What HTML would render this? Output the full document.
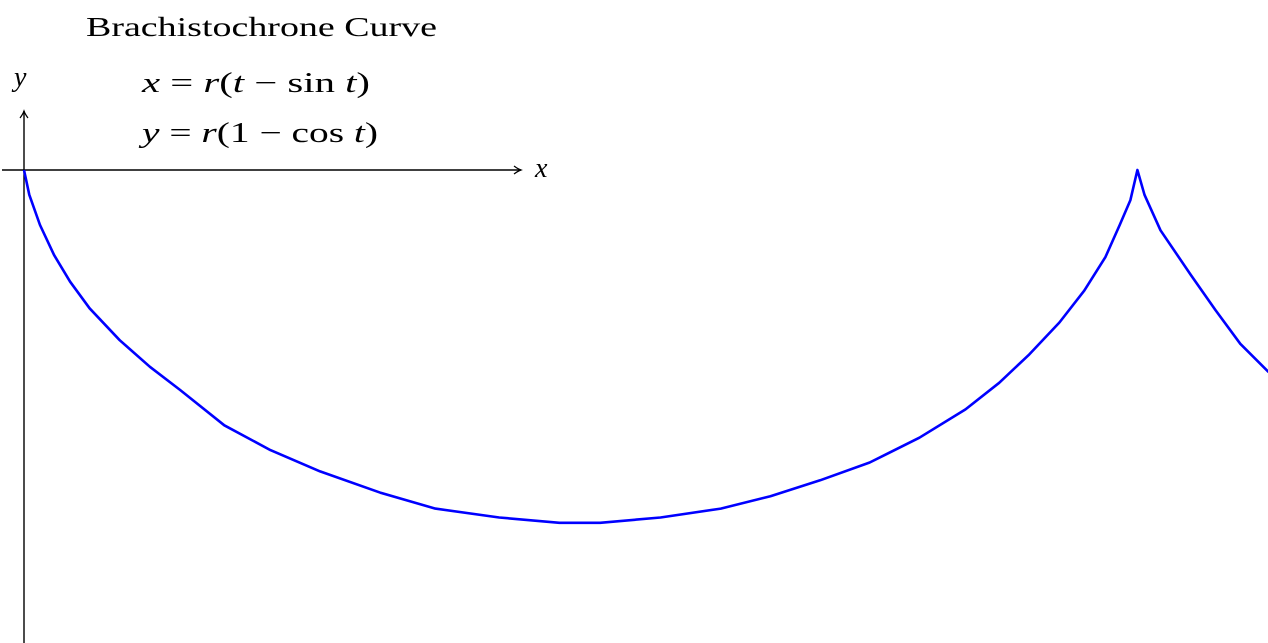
<!DOCTYPE html>
<html><head><meta charset="utf-8"><style>
html,body{margin:0;padding:0;background:#fff;}
svg{display:block;}
text{font-family:"Liberation Serif",serif;fill:#000;}
</style></head><body>
<svg id="chart" width="1268" height="643" viewBox="0 0 1268 643">
<defs><marker id="arr" markerWidth="10" markerHeight="10" refX="8" refY="5" orient="auto" markerUnits="userSpaceOnUse"><path d="M1,1 Q5,4 8,5 Q5,6 1,9" fill="none" stroke="#000" stroke-width="1.2"/></marker></defs>
<line x1="2" y1="170" x2="521" y2="170" stroke="#000" stroke-width="1.4" marker-end="url(#arr)"/>
<line x1="24" y1="643" x2="24" y2="111" stroke="#000" stroke-width="1.4" marker-end="url(#arr)"/>
<text x="535" y="177" font-size="28" font-style="italic">x</text>
<text x="14" y="86" font-size="28" font-style="italic">y</text>
<text x="86" y="36" font-size="27" textLength="351" lengthAdjust="spacingAndGlyphs">Brachistochrone Curve</text>
<text x="142" y="92" font-size="28" textLength="228" lengthAdjust="spacingAndGlyphs"><tspan font-style="italic">x</tspan> = <tspan font-style="italic">r</tspan>(<tspan font-style="italic">t</tspan> − sin <tspan font-style="italic">t</tspan>)</text>
<text x="142" y="142" font-size="28" textLength="236" lengthAdjust="spacingAndGlyphs"><tspan font-style="italic">y</tspan> = <tspan font-style="italic">r</tspan>(1 − cos <tspan font-style="italic">t</tspan>)</text>
<path id="curve" fill="none" stroke="#0000ff" stroke-width="2.6" stroke-linejoin="round"/>
</svg>
<script>
const xVals=[0,0.03,0.09,0.17,0.26,0.37,0.54,0.71,0.88,1.13,1.39,1.67,2.01,2.32,2.68,3.02,3.25,3.59,3.93,4.21,4.49,4.77,5.05,5.31,5.50,5.67,5.84,5.98,6.10,6.18,6.24,6.28,6.32,6.41,6.58,6.72,6.86,7.02];
const depthVals=[0,0.14,0.31,0.48,0.63,0.78,0.96,1.11,1.24,1.44,1.58,1.70,1.82,1.91,1.96,1.99,1.99,1.96,1.91,1.84,1.75,1.65,1.51,1.35,1.20,1.04,0.86,0.68,0.49,0.31,0.17,0,0.14,0.34,0.59,0.79,0.98,1.14];
const unit=177.3, ox=24, oy=170;
function sx(v){return ox+v*unit;}
function sy(v){return oy+v*unit;}
let d='';
for(let i=0;i<xVals.length;i++){d+=(i?'L':'M')+sx(xVals[i]).toFixed(1)+','+sy(depthVals[i]).toFixed(1);}
document.getElementById('curve').setAttribute('d',d);
</script>
</body></html>
